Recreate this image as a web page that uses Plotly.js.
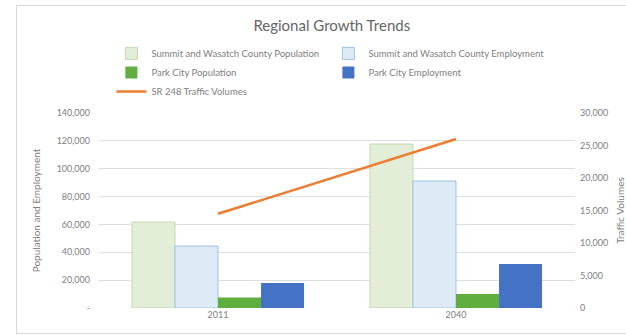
<!DOCTYPE html>
<html>
<head>
<meta charset="utf-8">
<script src="https://cdn.plot.ly/plotly-3.0.1.min.js"></script>
<style>
html,body{margin:0;padding:0;background:#fff;}
#frame{position:absolute;left:16px;top:5px;width:700px;height:327px;border:1px solid #d9d9d9;}
#chart{position:absolute;left:0;top:0;width:626px;height:335px;}
</style>
</head>
<body>
<div id="frame"></div>
<div id="chart"></div>
<script>
const categories = ["2011", "2040"];
const summitPopulation = [61700, 117700];
const summitEmployment = [44500, 91200];
const parkCityPopulation = [7500, 10000];
const parkCityEmployment = [18000, 31600];
const trafficVolumes = [14500, 26000];

const leftTickVals = [0, 20000, 40000, 60000, 80000, 100000, 120000, 140000];
const leftTickText = ["-", "20,000", "40,000", "60,000", "80,000", "100,000", "120,000", "140,000"];
const rightTickVals = [0, 5000, 10000, 15000, 20000, 25000, 30000];
const rightTickText = ["0", "5,000", "10,000", "15,000", "20,000", "25,000", "30,000"];

const FONT = "Lato, 'Open Sans', sans-serif";
const GREY = "#808080";

const traces = [
  {type: "bar", name: "Summit and Wasatch County Population", x: categories, y: summitPopulation,
   marker: {color: "#e2eed8", line: {color: "#c3d9b0", width: 1}}},
  {type: "bar", name: "Summit and Wasatch County Employment", x: categories, y: summitEmployment,
   marker: {color: "#deebf7", line: {color: "#9dc3e6", width: 1}}},
  {type: "bar", name: "Park City Population", x: categories, y: parkCityPopulation,
   marker: {color: "#5fae3e", line: {width: 0}}},
  {type: "bar", name: "Park City Employment", x: categories, y: parkCityEmployment,
   marker: {color: "#4472c4", line: {width: 0}}},
  {type: "scatter", mode: "lines", name: "SR 248 Traffic Volumes", x: categories, y: trafficVolumes,
   yaxis: "y2", line: {color: "#ed7d31", width: 2.5}}
];

const layout = {
  width: 626, height: 335,
  margin: {l: 99, r: 51, t: 113, b: 27},
  paper_bgcolor: "rgba(0,0,0,0)",
  plot_bgcolor: "rgba(0,0,0,0)",
  font: {family: FONT, color: GREY, size: 9},
  title: {text: "Regional Growth Trends", x: 0.53, xanchor: "center", y: 0.922, yanchor: "middle",
          font: {family: FONT, size: 15, color: "#666666"}},
  barmode: "group", bargap: 0.277, bargroupgap: 0,
  showlegend: true,
  legend: {orientation: "h", x: 0.026, xanchor: "left", y: 1.38, yanchor: "top",
           entrywidth: 172, entrywidthmode: "pixels", traceorder: "normal",
           font: {family: FONT, size: 9.5, color: GREY}, bgcolor: "rgba(0,0,0,0)"},
  xaxis: {type: "category", showgrid: false, showline: false, zeroline: false, ticks: "",
          tickfont: {family: FONT, size: 9, color: GREY}},
  yaxis: {range: [0, 140000], tickvals: leftTickVals, ticktext: leftTickText,
          showgrid: true, gridcolor: "#dedede", gridwidth: 1, zeroline: false, showline: false, ticks: "",
          ticklabelstandoff: 8,
          tickfont: {family: FONT, size: 9, color: GREY},
          title: {text: "Population and Employment", standoff: 14, font: {family: FONT, size: 10, color: GREY}}},
  yaxis2: {range: [0, 30000], overlaying: "y", side: "right", tickvals: rightTickVals, ticktext: rightTickText,
           showgrid: false, zeroline: false, showline: false, ticks: "",
           ticklabelstandoff: 4,
           tickfont: {family: FONT, size: 9, color: GREY},
           title: {text: "Traffic Volumes", standoff: 18, font: {family: FONT, size: 10, color: GREY}}}
};

Plotly.newPlot("chart", traces, layout, {displayModeBar: false, staticPlot: true});
</script>
</body>
</html>
